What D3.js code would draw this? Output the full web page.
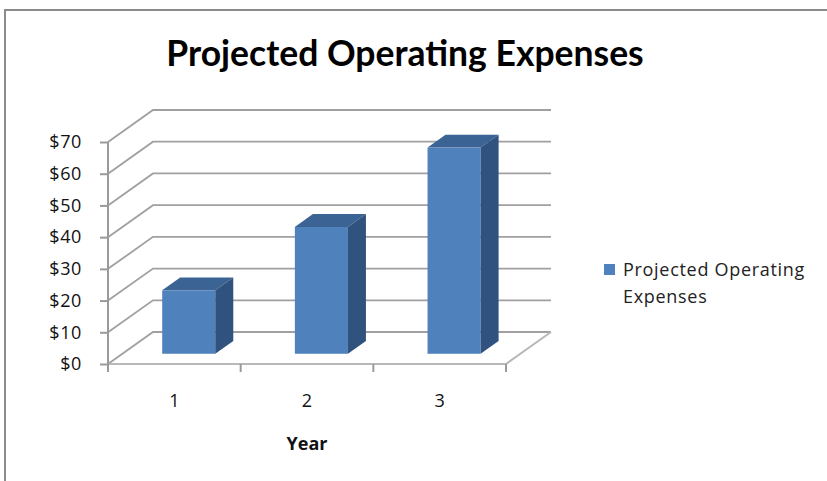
<!DOCTYPE html>
<html>
<head>
<meta charset="utf-8">
<script src="https://cdn.jsdelivr.net/npm/d3@7"></script>
<style>
  html, body { margin: 0; padding: 0; background: #fff; }
  svg { display: block; font-family: "Open Sans", Lato, sans-serif; }
</style>
</head>
<body>
<svg id="chart" width="827" height="481"></svg>
<script>
// ─── Data ─────────────────────────────────────────────────────────────────────

const years    = ["1", "2", "3"];
const expenses = [20, 40, 65];
const yTicks   = [0, 10, 20, 30, 40, 50, 60, 70];
const title    = "Projected Operating Expenses";
const xTitle   = "Year";
const seriesName = ["Projected Operating", "Expenses"];

// ─── Layout ───────────────────────────────────────────────────────────────────

const W = 827, H = 481;
const plot  = { left: 108, right: 506, top: 142, bottom: 364 };
const depth = { dx: 45, dy: -32 };     // wall depth offset
const barZ  = [0.32, 0.72];            // bar front/back as fraction of depth

const col = {
  front: "#4f81bd",
  top:   "#3b6393",
  side:  "#30527e",
  grid:  "#a0a0a0",
  axis:  "#9a9a9a",
  frame: "#8c8c8c",
};

const svg = d3.select("#chart");

const x = d3.scaleBand()
  .domain(years)
  .range([plot.left, plot.right])
  .paddingInner(0.6)
  .paddingOuter(0.3);

const y = d3.scaleLinear().domain([0, 70]).range([plot.bottom, plot.top]);

// ─── Outer frame ──────────────────────────────────────────────────────────────

svg.append("path")
  .attr("d", `M5,${H} L5,10 L${W},10`)
  .attr("fill", "none")
  .attr("stroke", col.frame)
  .attr("stroke-width", 2);

// ─── Title ────────────────────────────────────────────────────────────────────

svg.append("text")
  .attr("x", 405).attr("y", 66)
  .attr("text-anchor", "middle")
  .attr("font-family", "Lato, sans-serif")
  .attr("font-size", 35.5)
  .attr("font-weight", "bold")
  .attr("fill", "#000")
  .text(title);

// ─── Walls + gridlines ────────────────────────────────────────────────────────

const g = svg.append("g");

yTicks.forEach(v => {
  const yy = y(v);
  g.append("path")
    .attr("d", `M${plot.left},${yy} L${plot.left + depth.dx},${yy + depth.dy} L${plot.right + depth.dx},${yy + depth.dy}`)
    .attr("fill", "none")
    .attr("stroke", col.grid)
    .attr("stroke-width", 1.8);
});

// floor edges
g.append("path")
  .attr("d", `M${plot.left},${plot.bottom} L${plot.right},${plot.bottom} L${plot.right + depth.dx},${plot.bottom + depth.dy}`)
  .attr("fill", "none")
  .attr("stroke", "#b8b8b8")
  .attr("stroke-width", 2);

// ─── Bars ─────────────────────────────────────────────────────────────────────

const bars = g.selectAll("g.bar")
  .data(years.map((k, i) => ({ k, v: expenses[i] })))
  .join("g").attr("class", "bar");

bars.each(function (d) {
  const b   = d3.select(this);
  const ox  = barZ[0] * depth.dx, oy = barZ[0] * depth.dy;
  const ddx = (barZ[1] - barZ[0]) * depth.dx, ddy = (barZ[1] - barZ[0]) * depth.dy;
  const x0  = x(d.k) + ox, x1 = x0 + x.bandwidth();
  const y0  = y(0) + oy,   y1 = y(d.v) + oy;

  b.append("rect")
    .attr("x", x0).attr("y", y1)
    .attr("width", x1 - x0).attr("height", y0 - y1)
    .attr("fill", col.front);
  b.append("path")
    .attr("d", `M${x0},${y1} L${x0 + ddx},${y1 + ddy} L${x1 + ddx},${y1 + ddy} L${x1},${y1}Z`)
    .attr("fill", col.top);
  b.append("path")
    .attr("d", `M${x1},${y1} L${x1 + ddx},${y1 + ddy} L${x1 + ddx},${y0 + ddy} L${x1},${y0}Z`)
    .attr("fill", col.side);
});

// ─── Axes ─────────────────────────────────────────────────────────────────────

const yAxis = d3.axisLeft(y)
  .tickValues(yTicks)
  .tickSize(8)
  .tickPadding(18)
  .tickFormat(v => "$" + v);

const ya = svg.append("g")
  .attr("transform", `translate(${plot.left},0)`)
  .call(yAxis);
ya.select(".domain").remove();
ya.append("line")
  .attr("x1", 0).attr("x2", 0)
  .attr("y1", plot.top).attr("y2", plot.bottom + 7)
  .attr("stroke", col.axis).attr("stroke-width", 2);
ya.selectAll(".tick line").attr("stroke", col.axis).attr("stroke-width", 2);
ya.selectAll(".tick text")
  .attr("font-size", 18)
  .attr("letter-spacing", 0.6)
  .attr("font-family", "'Open Sans', sans-serif")
  .attr("fill", "#111");

// category separators below the floor
const sep = d3.range(years.length + 1).map(i => plot.left + i * x.step());
svg.append("g").selectAll("line")
  .data(sep)
  .join("line")
  .attr("x1", d => d).attr("x2", d => d)
  .attr("y1", plot.bottom).attr("y2", plot.bottom + 8)
  .attr("stroke", col.axis).attr("stroke-width", 2);

svg.append("g").selectAll("text")
  .data(years)
  .join("text")
  .attr("x", d => x(d) + x.bandwidth() / 2)
  .attr("y", 407)
  .attr("text-anchor", "middle")
  .attr("font-size", 18)
  .attr("fill", "#111")
  .text(d => d);

svg.append("text")
  .attr("x", 307).attr("y", 450)
  .attr("text-anchor", "middle")
  .attr("font-size", 18)
  .attr("font-weight", "bold")
  .attr("fill", "#111")
  .text(xTitle);

// ─── Legend ───────────────────────────────────────────────────────────────────

const lg = svg.append("g").attr("transform", "translate(604,264)");
lg.append("rect").attr("width", 11).attr("height", 11).attr("fill", col.front);
lg.selectAll("text")
  .data(seriesName)
  .join("text")
  .attr("x", 19)
  .attr("y", (d, i) => 12 + i * 27)
  .attr("font-size", 18)
  .attr("letter-spacing", 0.7)
  .attr("fill", "#222")
  .text(d => d);
</script>
</body>
</html>
